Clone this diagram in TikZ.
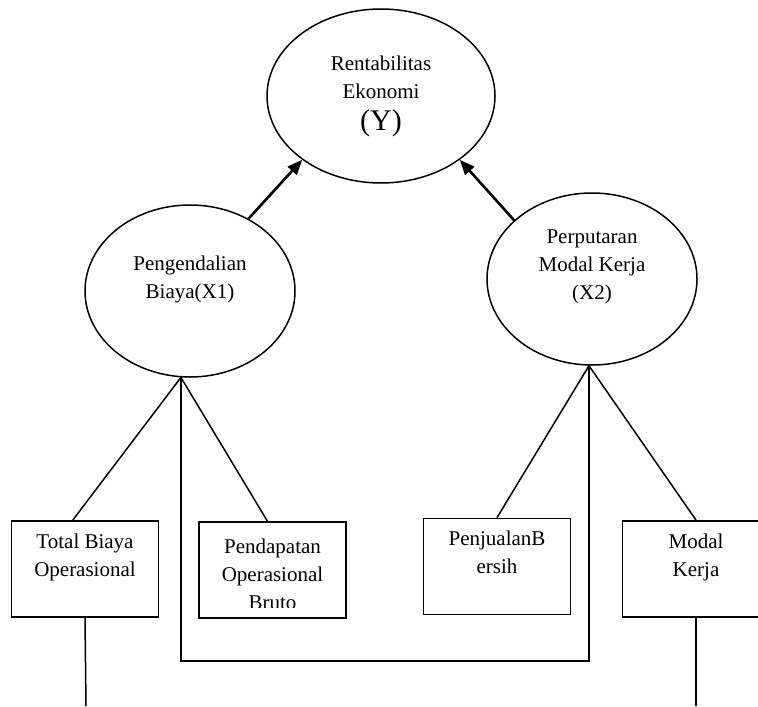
\documentclass[tikz,border=0pt]{standalone}
\usepackage{fontspec}
\setmainfont{Liberation Serif}
\usetikzlibrary{arrows.meta,shapes.geometric,positioning}

\begin{document}
\begin{tikzpicture}[x=0.5pt, y=-0.5pt, >={Triangle[length=7.5pt, width=6pt]},
  every node/.style={font=\fontsize{10.5}{14}\selectfont, align=center},
  var/.style={draw, ellipse, line width=0.75pt, inner sep=0pt},
  ind/.style={draw, rectangle, line width=0.9pt, minimum width=73.5pt, minimum height=48pt, inner sep=0pt},
  link/.style={line width=0.75pt},
  infl/.style={line width=1.3pt, ->}]
  \useasboundingbox (0,0) rectangle (758,706);
  \clip (0,0) rectangle (758,706);

  % Variables
  \node[var, minimum width=114pt, minimum height=87pt] (top) at (381,96)
    {Rentabilitas\\Ekonomi\\[2pt]{\fontsize{15}{18}\selectfont (Y)}};
  \node[var, minimum width=105pt, minimum height=86pt] (lx) at (190,291)
    {Pengendalian\\Biaya(X1)\\ \mbox{}};
  \node[var, minimum width=105pt, minimum height=86pt] (rx) at (592,279)
    {Perputaran\\Modal Kerja\\(X2)\\ \mbox{}};

  % Influence arrows
  \draw[infl] (lx.51) -- (top.-141);
  \draw[infl] (rx.143) -- (top.-39);

  % Indicators
  \node[ind] (tb) at (85,569) {Total Biaya\\Operasional\\ \mbox{}};
  \node[ind] (pb) at (272.5,570) {};
  \begin{scope}
    \clip (199,521) rectangle (346,607);
    \node (pbtext) at (272.5,574) {Pendapatan\\Operasional\\Bruto};
  \end{scope}
  \node[ind] (jb) at (497,566.5) {PenjualanB\\ersih\\ \mbox{}};
  \node[ind] (mb) at (696,569) {Modal\\Kerja\\ \mbox{}};

  \coordinate (loop) at (400,661);
  \coordinate (tbend) at (86,706);
  \coordinate (mbend) at (696,706);

  % Connectors
  \draw[link] (lx.-96) -- (tb.104);
  \draw[link] (lx.-96) -- (pb.96);
  \draw[link] (lx.-96) -- (lx.-96 |- loop) -| (rx.-92);
  \draw[link] (rx.-92) -- (jb.north);
  \draw[link] (rx.-92) -- (mb.north);
  \draw[link] (tb.south) -- (tbend);
  \draw[link] (mb.south) -- (mbend);
\end{tikzpicture}
\end{document}
